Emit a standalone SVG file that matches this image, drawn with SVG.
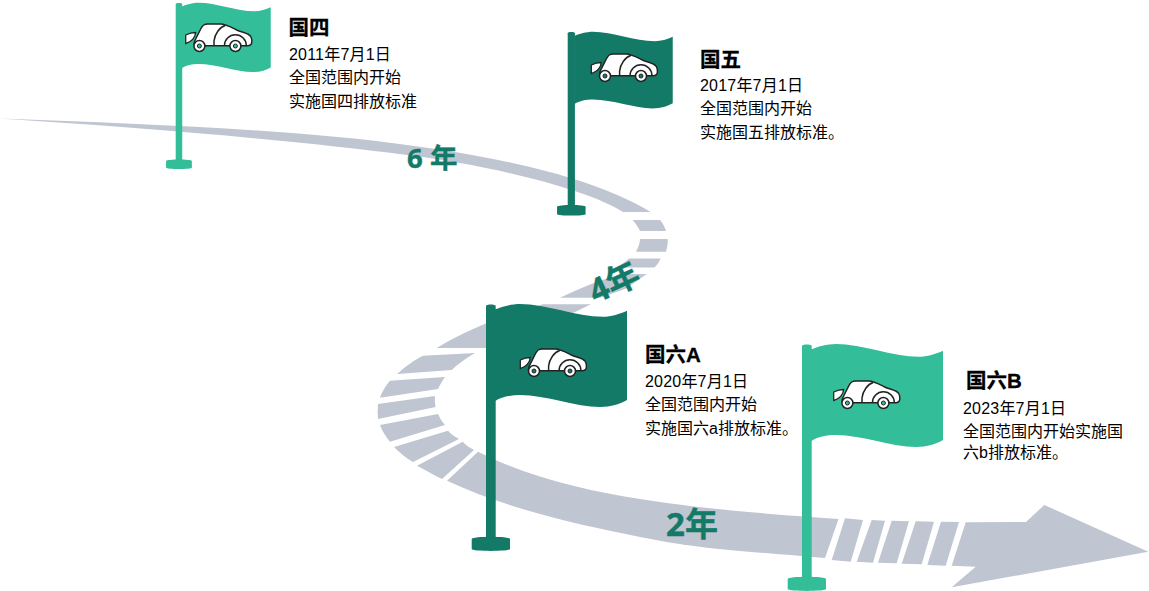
<svg xmlns="http://www.w3.org/2000/svg" xmlns:xlink="http://www.w3.org/1999/xlink" width="1149" height="591" viewBox="0 0 1149 591">
<style>
text{font-family:"Liberation Sans","Noto Sans CJK SC",sans-serif;fill:#000}
.b{font-size:16px}
.d{font-size:16px;letter-spacing:.2px}
.t{font-size:20.500px;font-weight:700;stroke:#000;stroke-width:.3px}
.y{font-family:"Noto Sans","Noto Sans CJK SC",sans-serif;font-weight:700;fill:#137a68;stroke:#137a68;stroke-width:.4px}
.road{fill:#bfc5d1}
.light{color:#33bd99}
.dark{color:#137a68}
.cs{stroke:#222;stroke-width:1.5;fill:none;stroke-linejoin:round}
.cw{stroke:#222;stroke-width:1.5;fill:#fff}
</style>
<defs>
<g id="flagshape">
<path fill="currentColor" d="M9.700 5.300C15 3 25 0 34 0C60 0 90 12.700 117 12.700C125 12.700 134 10 141 6.700L141 96C134 100 125 103 114 103C90 103 60 91 34 91C25 91 15 93 9.700 96.700L9 96.700L9 5.300Z"/>
<path fill="currentColor" d="M0 2C0 0 9.700 0 9.700 2L9.700 235L0 235Z"/>
<path fill="currentColor" d="M-14.300 235C-14.300 232 24 232 24 235L24 245C24 247.500 -14.300 247.500 -14.300 245Z"/>
</g>
<g id="car">
<path fill="#fff" stroke="#222" stroke-width="1.300" stroke-linejoin="round" d="M1 12C4 10.500 8 9.500 11 9.500C10.500 14 7 18.500 1 20.700Z"/>
<path class="cw" d="M12 22.700C9.500 22.700 9 20 10 18L16 6C18 2 19.500 1 23 1L36 1C41 1 46 4 52 7C58 9.500 64 10 66 13.500C68 17 68 22.700 63 22.700Z"/>
<path class="cs" d="M29.300 22.700L29.300 18C30 11 35 4 40.500 2.500"/>
<path class="cs" d="M39.700 22.700A11 11 0 0 1 61.700 22.700"/>
<circle class="cw" cx="14.700" cy="23" r="5.500"/>
<circle class="cw" cx="50.700" cy="23" r="5.500"/>
<circle fill="currentColor" stroke="#222" stroke-width="1" cx="14.700" cy="23" r="2"/>
<circle fill="currentColor" stroke="#222" stroke-width="1" cx="50.700" cy="23" r="2"/>
</g>
</defs>
<g id="connectors">
<path class="road" d="M0 118.500C150 124 300 130 407 145C490 156 590 175 650.700 212L623 212C590 190 490 165 407 155C300 141 150 128 0 118.500Z"/>
<path class="road" d="M632.700 220L660 220C663 224 665 227 666 231L640 231C638 227 635.500 223 632.700 220Z"/>
<path class="road" d="M640 239L667.700 239C668 244 667 248 666 251.700L636 251.700C638 248 640 243 640 239Z"/>
<path class="road" d="M629 258.500L660.700 258.500C659 262 657 265 654.500 267.500L616 267.500C621 265 625 262 629 258.500Z"/>
<path class="road" d="M560 297.700C578 289 600 280 622 274L646.700 274C638 280 632 285 625 289L600 297.700Z"/>
<path class="road" d="M543 304.300L591 304.300L500 348L436.700 348C470 328 505 315 543 304.300Z"/>
<path class="road" d="M423 355.700L475 353C466 358 458 364 451.700 370L397 374C405 367 414 360 423 355.700Z"/>
<path class="road" d="M390 380.700L445 377C442 381 440 385 438 389L380 397.700C382 392 386 385 390 380.700Z"/>
<path class="road" d="M378 404L435 396C434.500 400 435 404 435.700 407L378 419C377.500 414 377.500 409 378 404Z"/>
<path class="road" d="M380 425L438 414C440 418 442 422 445 425L390 441.700C386 437 382 431 380 425Z"/>
<path class="road" d="M394 447L448 430.700C451 434 455 437 459 439L413 462C406 458 399 452 394 447Z"/>
<path class="road" d="M417 465.700L462.700 441.700C466 445 470 448 474 450L442 479C434 475 425 470 417 465.700Z"/>
<path class="road" d="M478 451.700C530 478 590 491 640 499C690 507 740 512 838.500 519L825 558C730 550 700 549 640 537C580 525 510 510 447 480.700Z"/>
<path class="road" d="M845 518.300L863 520L850.700 561.700L831.700 560Z"/>
<path class="road" d="M871.700 520L885 520.700L873 562.700L856.700 561.700Z"/>
<path class="road" d="M891.700 520.700L909 521.300L896.700 563.300L878 562.700Z"/>
<path class="road" d="M915.700 521.300L934 521.700L921.700 564.300L901.700 563.700Z"/>
<path class="road" d="M941 521.700L959 522L945.700 565.700L927.300 565Z"/>
<path class="road" d="M965.700 522.300L1026 522L1044.300 505L1148.300 551.700L951.700 587.300L975.700 566.700L951.700 565.700Z"/>
</g>
<g id="gap-labels">
<text class="y" x="407" y="168" font-size="27.500">6 年</text>
<text class="y" text-anchor="middle" font-size="33" transform="translate(619 293) rotate(-25)">4年</text>
<text class="y" x="666" y="536" font-size="33">2年</text>
</g>
<g id="guo4" class="light">
<use xlink:href="#flagshape" href="#flagshape" transform="translate(175.700 2.700) scale(.674)"/>
<use xlink:href="#car" href="#car" transform="translate(184.700 23)"/>
<text class="t" x="288.500" y="35">国四</text>
<text class="d" x="289" y="60">2011年7月1日</text>
<text class="b" x="289" y="82.500">全国范围内开始</text>
<text class="b" x="289" y="107">实施国四排放标准</text>
</g>
<g id="guo5" class="dark">
<use xlink:href="#flagshape" href="#flagshape" transform="translate(567.700 31.700) scale(.745)"/>
<use xlink:href="#car" href="#car" transform="translate(590.300 53)"/>
<text class="t" x="700" y="67">国五</text>
<text class="d" x="700" y="91">2017年7月1日</text>
<text class="b" x="700" y="114">全国范围内开始</text>
<text class="b" x="700" y="138">实施国五排放标准。</text>
</g>
<g id="guo6a" class="dark">
<use xlink:href="#flagshape" href="#flagshape" transform="translate(486 304)"/>
<use xlink:href="#car" href="#car" transform="translate(519.300 348)"/>
<text class="t" x="645" y="362">国六A</text>
<text class="d" x="645" y="387">2020年7月1日</text>
<text class="b" x="645" y="410">全国范围内开始</text>
<text class="b" x="645" y="434">实施国六a排放标准。</text>
</g>
<g id="guo6b" class="light">
<use xlink:href="#flagshape" href="#flagshape" transform="translate(802 344)"/>
<use xlink:href="#car" href="#car" transform="translate(832.700 380)"/>
<text class="t" x="966" y="388">国六B</text>
<text class="d" x="963" y="414">2023年7月1日</text>
<text class="b" x="963" y="436.500">全国范围内开始实施国</text>
<text class="b" x="963" y="457.500">六b排放标准。</text>
</g>
</svg>
